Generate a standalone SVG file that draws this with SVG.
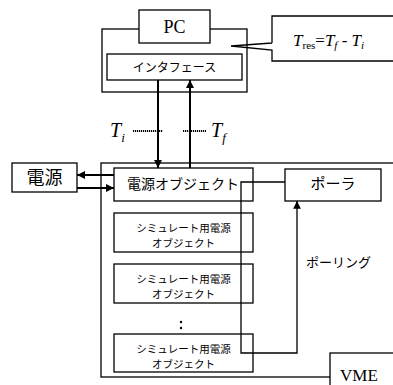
<svg xmlns="http://www.w3.org/2000/svg" width="393" height="385" viewBox="0 0 393 385">
<style>
.box{fill:#fff;stroke:#000;stroke-width:1.3}
.ln{fill:none;stroke:#000;stroke-width:1.3}
.ar{fill:none;stroke:#000;stroke-width:2}
.dot{fill:none;stroke:#000;stroke-width:2;stroke-dasharray:1.2 0.8}
.jp{font-family:"Noto Sans CJK JP","Noto Sans",sans-serif;fill:#000}
.sm{font-size:10.5px}
.rm{font-family:"Liberation Serif",serif;fill:#000}
.it{font-family:"Liberation Serif",serif;font-style:italic;fill:#000}
</style>
<defs>
<marker id="ah" viewBox="0 0 10 10" refX="10" refY="5" markerWidth="4" markerHeight="4" orient="auto" markerUnits="strokeWidth">
<path d="M0,0 L10,5 L0,10 Z" fill="#000"/>
</marker>
<marker id="ah2" viewBox="0 0 10 10" refX="10" refY="5" markerWidth="6" markerHeight="6" orient="auto" markerUnits="strokeWidth">
<path d="M0,0 L10,5 L0,10 Z" fill="#000"/>
</marker>
</defs>
<g id="vme">
<rect class="box" x="101" y="163" width="295" height="214"/>
</g>
<g id="pc">
<rect class="box" x="102" y="29" width="145" height="63"/>
<rect class="box" x="139" y="10" width="71" height="33"/>
<text class="rm" x="174.5" y="33" font-size="18" text-anchor="middle">PC</text>
</g>
<g id="interface">
<rect class="box" x="107" y="54" width="135" height="26"/>
<text class="jp" x="174.5" y="72" font-size="12" text-anchor="middle">インタフェース</text>
</g>
<g id="callout">
<path class="ln" d="M272,43 L272,16 L396,16 M396,61 L272,61 L272,50 L231,46 L272,43"/>
<text class="it" x="293" y="46" font-size="17">T<tspan font-style="normal" font-size="11" dy="3">res</tspan><tspan font-style="normal" dy="-3">=</tspan>T<tspan font-size="11" dy="3">f</tspan><tspan font-style="normal" dy="-3"> - </tspan>T<tspan font-size="11" dy="3">i</tspan></text>
</g>
<g id="dengen">
<rect class="box" x="12" y="163" width="65" height="29"/>
<text class="jp" x="44.5" y="184" font-size="18" text-anchor="middle">電源</text>
</g>
<g id="dengen-obj">
<rect class="box" x="114" y="168" width="139" height="33"/>
<text class="jp" x="127" y="189" font-size="14">電源オブジェクト</text>
</g>
<g id="poller">
<rect class="box" x="285" y="169" width="96" height="32"/>
<text class="jp" x="333" y="189" font-size="15" text-anchor="middle">ポーラ</text>
</g>
<g id="sim1">
<rect class="box" x="114" y="213" width="139" height="39"/>
<text class="jp sm" x="183.5" y="232" text-anchor="middle">シミュレート用電源</text>
<text class="jp sm" x="183.5" y="247" text-anchor="middle">オブジェクト</text>
</g>
<g id="sim2">
<rect class="box" x="114" y="264" width="139" height="39"/>
<text class="jp sm" x="183.5" y="283" text-anchor="middle">シミュレート用電源</text>
<text class="jp sm" x="183.5" y="298" text-anchor="middle">オブジェクト</text>
</g>
<g id="dots">
<circle cx="181" cy="322" r="1.2"/>
<circle cx="181" cy="328" r="1.2"/>
<circle cx="181" cy="335" r="1.2"/>
</g>
<g id="sim3">
<rect class="box" x="114" y="334" width="139" height="38"/>
<text class="jp sm" x="183.5" y="353" text-anchor="middle">シミュレート用電源</text>
<text class="jp sm" x="183.5" y="368" text-anchor="middle">オブジェクト</text>
</g>
<g id="vme-label">
<rect class="box" x="330" y="353" width="80" height="50"/>
<text class="rm" x="340" y="381" font-size="17">VME</text>
</g>
<g id="labels">
<text class="it" x="110" y="137" font-size="20">T<tspan font-size="13" dy="5">i</tspan></text>
<text class="it" x="211" y="137" font-size="20">T<tspan font-size="13" dy="5">f</tspan></text>
<text class="jp" x="306" y="267" font-size="13">ポーリング</text>
</g>
<g id="connectors">
<line class="ar" x1="158" y1="80" x2="158" y2="168" marker-end="url(#ah)"/>
<line class="ar" x1="190" y1="168" x2="190" y2="80" marker-end="url(#ah)"/>
<line class="dot" x1="133" y1="131" x2="163" y2="131"/>
<line class="dot" x1="183" y1="131" x2="206" y2="131"/>
<line class="ar" x1="114" y1="175" x2="77" y2="175" marker-end="url(#ah)"/>
<line class="ar" x1="77" y1="188" x2="114" y2="188" marker-end="url(#ah)"/>
<path class="ln" d="M285,182 L241,182 L241,353 L297,353 L297,201" marker-end="url(#ah2)"/>
</g>
</svg>
